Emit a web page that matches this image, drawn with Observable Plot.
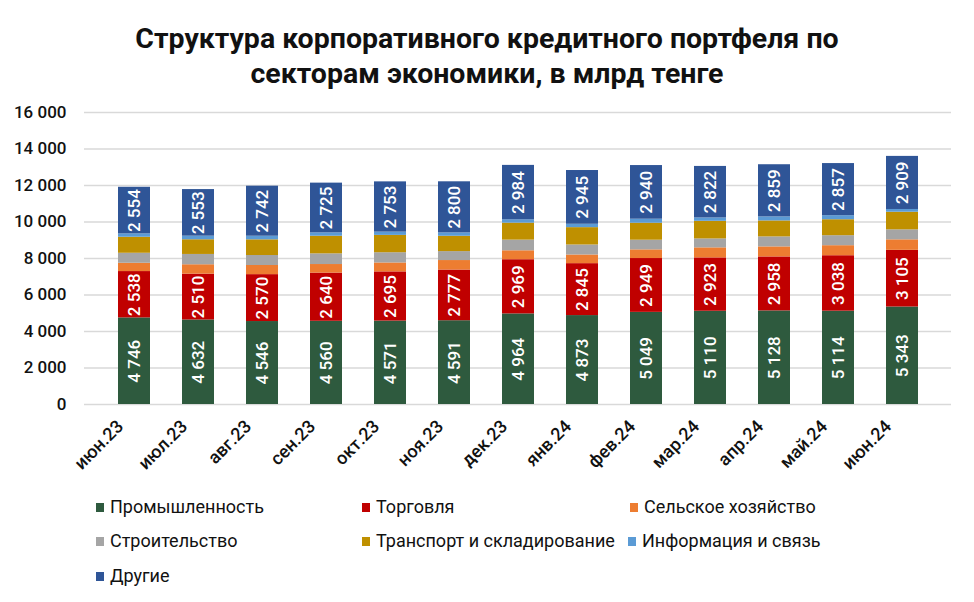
<!DOCTYPE html>
<html><head><meta charset="utf-8">
<script src="https://cdn.jsdelivr.net/npm/d3@7"></script>
<script src="https://cdn.jsdelivr.net/npm/@observablehq/plot@0.6"></script>
<style>
body{margin:0;background:#fff;font-family:Roboto,sans-serif}
#wrap{position:relative;width:974px;height:602px;overflow:hidden}
#title{position:absolute;top:21px;left:0;width:974px;text-align:center;font-weight:700;font-size:28.5px;line-height:35px;color:#111}
#chart{position:absolute;top:0;left:0}
.li{position:absolute;font-size:18px;color:#111;white-space:nowrap;line-height:20px}
.sw{display:inline-block;width:8px;height:9px;margin-right:6px;vertical-align:1px}
</style></head>
<body>
<div id="wrap">
<div id="chart"></div>
<div id="title">Структура корпоративного кредитного портфеля по<br>секторам экономики, в млрд тенге</div>
<div id="legend"></div>
</div>
<script>
const months = ["июн.23","июл.23","авг.23","сен.23","окт.23","ноя.23","дек.23","янв.24","фев.24","мар.24","апр.24","май.24","июн.24"];
const series = ["Промышленность","Торговля","Сельское хозяйство","Строительство","Транспорт и складирование","Информация и связь","Другие"];
const colors = ["#2e5a3e","#c00000","#ed7d31","#a5a5a5","#bf9000","#5b9bd5","#2f5597"];
const industry = [4746,4632,4546,4560,4571,4591,4964,4873,5049,5110,5128,5114,5343];
const trade = [2538,2510,2570,2640,2695,2777,2969,2845,2949,2923,2958,3038,3105];
const agriculture = [455,515,500,470,490,520,490,475,475,550,550,550,575];
const construction = [548,565,548,585,560,490,585,548,530,490,548,548,548];
const transport = [877,805,860,965,950,840,930,950,930,965,875,875,965];
const info = [185,197,197,185,180,185,180,185,220,185,220,220,150];
const others = [2554,2553,2742,2725,2753,2800,2984,2945,2940,2822,2859,2857,2909];
const yTicks = [0,2000,4000,6000,8000,10000,12000,14000,16000];
const labeled = ["Промышленность","Торговля","Другие"];

const values = [industry, trade, agriculture, construction, transport, info, others];
const rows = [];
months.forEach((m, i) => series.forEach((s, j) => rows.push({month: m, series: s, value: values[j][i]})));

const fmt = v => d3.format(",")(v).replace(/,/g, " ");

const chart = Plot.plot({
  width: 974, height: 602,
  marginLeft: 84, marginRight: 23, marginTop: 112, marginBottom: 198,
  style: {fontFamily: "Roboto, sans-serif", fontSize: "17px", color: "#111", background: "transparent"},
  x: {domain: months, padding: 0.5, label: null},
  y: {domain: [0, 16000], label: null},
  color: {domain: series, range: colors},
  marks: [
    Plot.ruleY(yTicks, {stroke: "#d9d9d9", strokeWidth: 1.3}),
    Plot.barY(rows, {x: "month", y: "value", fill: "series", z: "series"}),
    Plot.text(rows, Plot.stackY({x: "month", y: "value", z: "series",
      text: d => labeled.includes(d.series) ? fmt(d.value) : null,
      rotate: -90, fill: "white", fontSize: 17, fontWeight: 500})),
    Plot.axisY({ticks: yTicks, tickFormat: fmt, tickSize: 0, tickPadding: 18, fontWeight: 500, label: null}),
    Plot.axisX({tickRotate: -45, tickSize: 0, tickPadding: 9, fontSize: 18, fontWeight: 500, dx: -14, dy: 10, label: null})
  ]
});
document.getElementById("chart").appendChild(chart);

const legendPos = [[96,497],[362,497],[630,497],[96,531],[362,531],[628,531],[96,566]];
const lg = document.getElementById("legend");
series.forEach((s, j) => {
  const el = document.createElement("div");
  el.className = "li";
  el.style.left = legendPos[j][0] + "px";
  el.style.top = legendPos[j][1] + "px";
  el.innerHTML = `<span class="sw" style="background:${colors[j]}"></span>${s}`;
  lg.appendChild(el);
});
</script>
</body></html>
